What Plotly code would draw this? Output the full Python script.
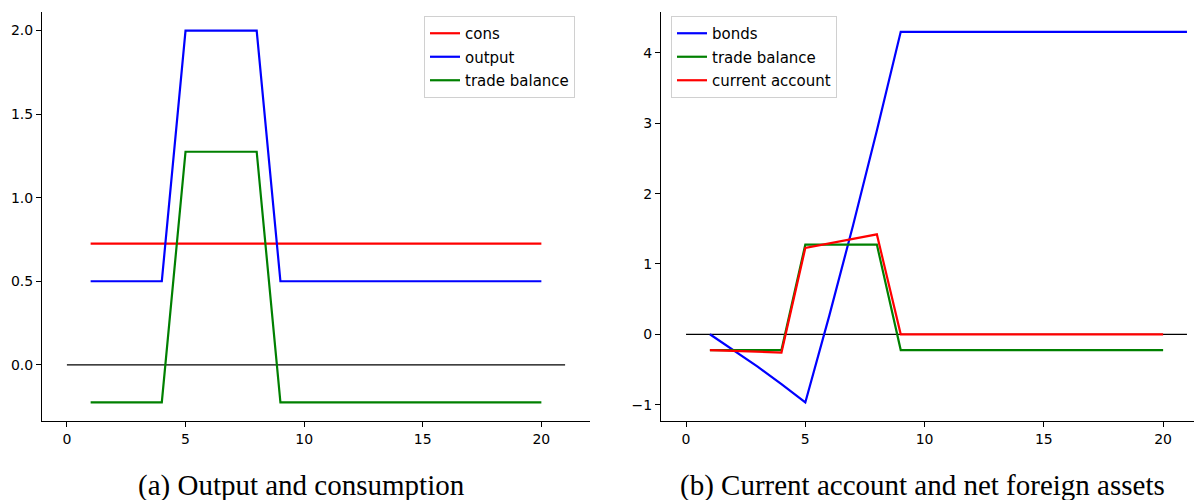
import plotly.graph_objects as go

# ---- data ----
t = list(range(1, 21))
t_bonds = list(range(1, 22))
zero_x = [0, 21]
zero_y = [0, 0]

cons = [0.725] * 20
output = [0.5, 0.5, 0.5, 0.5, 2.0, 2.0, 2.0, 2.0] + [0.5] * 12
trade_balance = [-0.225, -0.225, -0.225, -0.225, 1.275, 1.275, 1.275, 1.275] + [-0.225] * 12

bonds = [0.0, -0.225, -0.461, -0.709, -0.969, 0.258, 1.546, 2.898, 4.30] + [4.30] * 12
current_account = [-0.225, -0.236, -0.248, -0.260, 1.227, 1.288, 1.352, 1.420] + [0.0] * 12

caption_a = "(a) Output and consumption"
caption_b = "(b) Current account and net foreign assets"

RED, BLUE, GREEN = "#ff0000", "#0000ff", "#008000"
LW = 2.2

fig = go.Figure()

# left panel
fig.add_trace(go.Scatter(x=zero_x, y=zero_y, mode="lines", line=dict(color="black", width=1.2),
                         showlegend=False, xaxis="x", yaxis="y", hoverinfo="skip"))
fig.add_trace(go.Scatter(x=t, y=cons, mode="lines", name="cons", line=dict(color=RED, width=LW),
                         xaxis="x", yaxis="y", legend="legend", legendgroup="a1"))
fig.add_trace(go.Scatter(x=t, y=output, mode="lines", name="output", line=dict(color=BLUE, width=LW),
                         xaxis="x", yaxis="y", legend="legend", legendgroup="a2"))
fig.add_trace(go.Scatter(x=t, y=trade_balance, mode="lines", name="trade balance",
                         line=dict(color=GREEN, width=LW), xaxis="x", yaxis="y",
                         legend="legend", legendgroup="a3"))

# right panel
fig.add_trace(go.Scatter(x=zero_x, y=zero_y, mode="lines", line=dict(color="black", width=1.2),
                         showlegend=False, xaxis="x2", yaxis="y2", hoverinfo="skip"))
fig.add_trace(go.Scatter(x=t_bonds, y=bonds, mode="lines", name="bonds", line=dict(color=BLUE, width=LW),
                         xaxis="x2", yaxis="y2", legend="legend2", legendgroup="b1"))
fig.add_trace(go.Scatter(x=t, y=trade_balance, mode="lines", name="trade balance",
                         line=dict(color=GREEN, width=LW), xaxis="x2", yaxis="y2",
                         legend="legend2", legendgroup="b2"))
fig.add_trace(go.Scatter(x=t, y=current_account, mode="lines", name="current account",
                         line=dict(color=RED, width=LW), xaxis="x2", yaxis="y2",
                         legend="legend2", legendgroup="b3"))

# the page body adds an 8px margin, so the figure is laid out in (screen - 8) pixels
OFF = 8
W, H = 1202 - OFF, 500 - OFF


def px(xs):
    return (xs - OFF) / W


def py(ys):
    return (H - (ys - OFF)) / H


tickfont = dict(family="DejaVu Sans", size=14, color="black")
axis_common = dict(showline=True, linecolor="black", linewidth=1, showgrid=False, zeroline=False,
                   ticks="outside", ticklen=5, tickwidth=1, tickcolor="black", tickfont=tickfont,
                   mirror=False, automargin=False)

ydom = [py(421), py(12)]

legend_common = dict(bgcolor="rgba(255,255,255,0.9)", bordercolor="#d0d0d0", borderwidth=1,
                     font=dict(family="DejaVu Sans", size=15, color="black"),
                     xanchor="left", yanchor="top", tracegroupgap=1)

fig.update_layout(
    width=W, height=H,
    margin=dict(l=0, r=0, t=0, b=0),
    paper_bgcolor="white", plot_bgcolor="white",
    xaxis=dict(domain=[px(42), px(590)], range=[-1.05, 22.05], tickvals=[0, 5, 10, 15, 20],
               anchor="y", **axis_common),
    yaxis=dict(domain=ydom, range=[-0.336, 2.111], tickvals=[0.0, 0.5, 1.0, 1.5, 2.0],
               ticktext=["0.0", "0.5", "1.0", "1.5", "2.0"], anchor="x", **axis_common),
    xaxis2=dict(domain=[px(661), 1.0], range=[-1.05, 21.63], tickvals=[0, 5, 10, 15, 20],
                anchor="y2", **axis_common),
    yaxis2=dict(domain=ydom, range=[-1.233, 4.582], tickvals=[-1, 0, 1, 2, 3, 4],
                ticktext=["\u22121", "0", "1", "2", "3", "4"], anchor="x2", **axis_common),
    legend=dict(x=px(424), y=py(16), **legend_common),
    legend2=dict(x=px(671), y=py(16), **legend_common),
    annotations=[
        dict(text=caption_a, x=px(301), y=py(485), xref="paper", yref="paper",
             showarrow=False, xanchor="center", yanchor="middle",
             font=dict(family="Liberation Serif", size=29, color="black")),
        dict(text=caption_b, x=px(922), y=py(485), xref="paper", yref="paper",
             showarrow=False, xanchor="center", yanchor="middle",
             font=dict(family="Liberation Serif", size=29, color="black")),
    ],
)

fig.write_html("out.html")
